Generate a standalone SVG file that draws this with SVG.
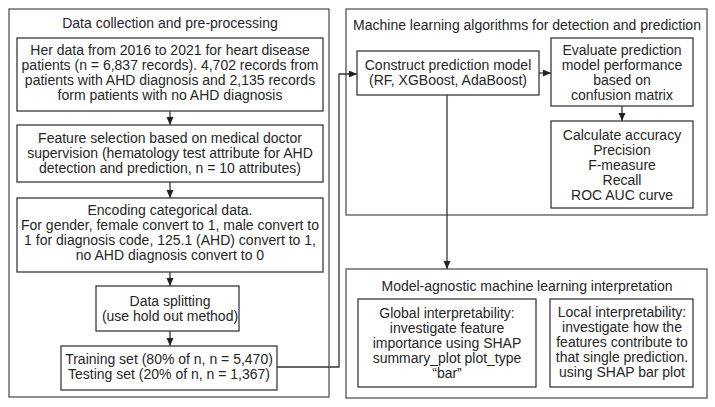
<svg xmlns="http://www.w3.org/2000/svg" width="715" height="407" viewBox="0 0 715 407">
<style>
.outer{fill:none;stroke:#555;stroke-width:1.3}
.box{fill:#fff;stroke:#3a3a3a;stroke-width:1.3}
.t{font-family:"Liberation Sans",Arial,sans-serif;font-size:14px;fill:#262626;text-anchor:middle}
.c{fill:none;stroke:#333;stroke-width:1.3}
</style>
<defs>
<marker id="ah" markerUnits="userSpaceOnUse" markerWidth="9" markerHeight="8" refX="8" refY="3.5" orient="auto">
<path d="M0,0 L8,3.5 L0,7 z" fill="#222"/>
</marker>
</defs>
<rect width="715" height="407" fill="#fff"/>
<g id="group-left">
<rect class="outer" x="9" y="9" width="320" height="388"/>
<text class="t" x="170" y="28">Data collection and pre-processing</text>
</g>
<g id="group-ml">
<rect class="outer" x="346" y="9" width="361" height="206"/>
<text class="t" x="527" y="30">Machine learning algorithms for detection and prediction</text>
</g>
<g id="group-interp">
<rect class="outer" x="346" y="269" width="361" height="129"/>
<text class="t" x="527" y="291">Model-agnostic machine learning interpretation</text>
</g>
<g id="connectors">
<path class="c" d="M170,111 V125" marker-end="url(#ah)"/>
<path class="c" d="M170,182 V198" marker-end="url(#ah)"/>
<path class="c" d="M170,272 V286" marker-end="url(#ah)"/>
<path class="c" d="M170,331 V346" marker-end="url(#ah)"/>
<path class="c" d="M277,367 H339 V74 H357" marker-end="url(#ah)"/>
<path class="c" d="M539,73 H551" marker-end="url(#ah)"/>
<path class="c" d="M622,106 V121" marker-end="url(#ah)"/>
<path class="c" d="M447,95 V269" marker-end="url(#ah)"/>
</g>
<g id="her-data">
<rect class="box" x="17" y="38" width="306" height="73"/>
<text class="t" x="170" y="55">Her data from 2016 to 2021 for heart disease</text>
<text class="t" x="170" y="70">patients (n = 6,837 records). 4,702 records from</text>
<text class="t" x="170" y="85">patients with AHD diagnosis and 2,135 records</text>
<text class="t" x="170" y="100">form patients with no AHD diagnosis</text>
</g>
<g id="feature-selection">
<rect class="box" x="17" y="125" width="306" height="57"/>
<text class="t" x="170" y="143">Feature selection based on medical doctor</text>
<text class="t" x="170" y="158">supervision (hematology test attribute for AHD</text>
<text class="t" x="170" y="173">detection and prediction, n = 10 attributes)</text>
</g>
<g id="encoding">
<rect class="box" x="17" y="198" width="306" height="74"/>
<text class="t" x="170" y="215">Encoding categorical data.</text>
<text class="t" x="170" y="230">For gender, female convert to 1, male convert to</text>
<text class="t" x="170" y="245">1 for diagnosis code, 125.1 (AHD) convert to 1,</text>
<text class="t" x="170" y="260">no AHD diagnosis convert to 0</text>
</g>
<g id="data-splitting">
<rect class="box" x="96" y="286" width="143" height="45"/>
<text class="t" x="170" y="306">Data splitting</text>
<text class="t" x="170" y="321">(use hold out method)</text>
</g>
<g id="train-test">
<rect class="box" x="61" y="346" width="216" height="44"/>
<text class="t" x="169" y="364">Training set (80% of n, n = 5,470)</text>
<text class="t" x="169" y="379">Testing set (20% of n, n = 1,367)</text>
</g>
<g id="construct">
<rect class="box" x="357" y="51" width="182" height="44"/>
<text class="t" x="448" y="70">Construct prediction model</text>
<text class="t" x="448" y="85">(RF, XGBoost, AdaBoost)</text>
</g>
<g id="evaluate">
<rect class="box" x="551" y="38" width="142" height="68"/>
<text class="t" x="622" y="55">Evaluate prediction</text>
<text class="t" x="622" y="70">model performance</text>
<text class="t" x="622" y="85">based on</text>
<text class="t" x="622" y="100">confusion matrix</text>
</g>
<g id="calculate">
<rect class="box" x="551" y="121" width="142" height="87"/>
<text class="t" x="622" y="140">Calculate accuracy</text>
<text class="t" x="622" y="155">Precision</text>
<text class="t" x="622" y="170">F-measure</text>
<text class="t" x="622" y="185">Recall</text>
<text class="t" x="622" y="200">ROC AUC curve</text>
</g>
<g id="global">
<rect class="box" x="358" y="299" width="178" height="88"/>
<text class="t" x="447" y="318">Global interpretability:</text>
<text class="t" x="447" y="333">investigate feature</text>
<text class="t" x="447" y="348">importance using SHAP</text>
<text class="t" x="447" y="363">summary_plot plot_type</text>
<text class="t" x="447" y="378">“bar”</text>
</g>
<g id="local">
<rect class="box" x="550" y="299" width="143" height="88"/>
<text class="t" x="622" y="317">Local interpretability:</text>
<text class="t" x="622" y="332">investigate how the</text>
<text class="t" x="622" y="347">features contribute to</text>
<text class="t" x="622" y="362">that single prediction.</text>
<text class="t" x="622" y="377">using SHAP bar plot</text>
</g>
</svg>
